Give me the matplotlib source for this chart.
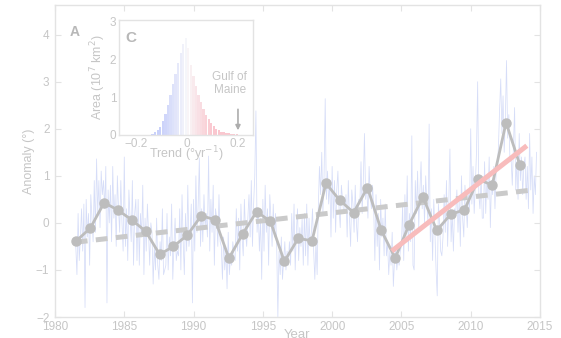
import matplotlib
matplotlib.use("Agg")
import matplotlib.pyplot as plt
import numpy as np

plt.rcParams['font.family'] = ['Liberation Sans', 'DejaVu Sans']
plt.rcParams['lines.scale_dashes'] = False

# ---------------- data ----------------
annual_years = [1981.55, 1982.55, 1983.55, 1984.55, 1985.55, 1986.55, 1987.55, 1988.55,
                1989.55, 1990.55, 1991.55, 1992.55, 1993.55, 1994.55, 1995.55, 1996.55,
                1997.55, 1998.55, 1999.55, 2000.55, 2001.55, 2002.55, 2003.55, 2004.55,
                2005.55, 2006.55, 2007.55, 2008.55, 2009.55, 2010.55, 2011.55, 2012.55,
                2013.55]
annual_anom = [-0.38, -0.11, 0.43, 0.27, 0.06, -0.18, -0.67, -0.50, -0.26, 0.15, 0.07,
               -0.75, -0.23, 0.24, 0.03, -0.82, -0.33, -0.38, 0.84, 0.48, 0.22, 0.75,
               -0.16, -0.75, -0.04, 0.55, -0.16, 0.18, 0.28, 0.93, 0.80, 2.13, 1.23]

monthly_start = 1981.5
monthly_anom = [
    -0.5, -1.1, 0.2, -0.8, -0.3, 0.3,                                   # 1981 (Jul-Dec)
    -0.6, 0.4, -1.8, 0.5, -0.3, 0.2, -0.9, 0.6, 0.1, -0.4, 0.9, -0.2,     # 1982
    1.36, 0.2, 0.9, -0.1, 1.1, 0.6, 0.9, 0.3, 1.2, -1.7, 0.7, 0.0,        # 1983
    0.8, -0.4, 1.2, 0.1, 0.6, -0.5, 1.0, 0.3, -0.2, 0.9, 0.0, -0.6,       # 1984
    1.4, -0.5, 0.3, -0.8, 0.7, 0.1, -0.4, 0.9, -0.9, 0.2, 0.5, -0.8,      # 1985
    0.5, -0.9, 0.2, -0.3, 0.8, -1.1, 0.1, -0.6, 0.4, -0.2, -0.9, 0.0,     # 1986
    -0.2, -1.3, -0.5, -1.0, 0.1, -0.9, -1.2, -0.4, -0.8, 0.3, -1.1, -1.0, # 1987
    -0.9, 0.2, -1.0, -0.3, -0.7, 0.4, -1.2, -0.5, 0.1, -0.8, -0.6, -0.7,  # 1988
    0.3, -1.0, 0.6, -0.4, -1.1, 0.2, -0.6, 0.8, -0.5, -0.2, 0.4, -1.7,    # 1989
    0.5, -0.6, 1.0, -0.2, 0.4, 1.38, -0.5, 0.3, -0.4, 0.6, -0.1, 0.2,     # 1990
    -0.3, 1.42, -0.6, 0.5, -0.2, 0.8, -0.9, 0.3, 0.1, -0.5, 0.6, -0.4,    # 1991
    -0.5, -1.2, -0.3, -1.0, -0.6, -1.4, -0.2, -1.1, -0.7, -0.9, -0.4, -0.7, # 1992
    -0.8, 0.3, -0.6, 0.1, -1.0, 0.4, -0.3, -0.7, 0.5, -0.2, -0.5, 0.1,    # 1993
    0.6, -0.3, 0.9, -0.5, 0.4, 1.0, 2.38, -0.2, 0.3, -0.6, 0.1, -1.2,     # 1994
    0.5, -0.6, 0.8, -0.2, 0.3, -0.9, 0.6, 0.1, -0.5, 0.4, -0.3, 0.2,      # 1995
    -0.5, -2.0, -0.6, -1.1, -0.3, -1.2, -0.8, -0.4, -1.0, -0.6, -0.9, -0.4, # 1996
    -0.9, 0.2, -0.6, 0.4, -1.0, -0.2, 0.3, -0.8, -0.1, -0.5, 0.1, -0.9,   # 1997
    0.2, -0.7, 0.4, -0.9, 0.1, -0.5, -0.2, 0.3, -0.6, -1.2, -0.4, -1.1,   # 1998
    0.3, 1.2, 0.6, 1.5, 0.2, 1.0, 2.64, 0.5, 1.1, 0.4, 0.9, -0.3,         # 1999
    1.2, 0.1, 0.9, -0.2, 0.7, 1.1, 0.3, -0.1, 0.8, 0.5, 0.2, 0.3,         # 2000
    0.6, -0.3, 0.9, 0.1, -0.5, 0.7, 0.4, -0.2, 0.8, 0.0, -0.4, 0.5,       # 2001
    0.4, 1.3, 0.2, 0.9, 1.9, 0.5, 0.8, 0.1, 1.2, 0.6, 0.3, 0.8,           # 2002
    0.3, -0.8, 0.6, -0.5, 0.2, -1.0, 0.5, -0.3, 0.1, -0.7, 0.4, -0.7,     # 2003
    -0.4, -1.1, -0.6, -0.9, -0.2, -1.35, -0.8, -0.5, -1.0, -0.7, -0.9, -0.6, # 2004
    -0.5, 0.4, -0.8, 0.6, -0.3, 1.0, -0.6, 0.2, -0.4, 1.85, -0.9, -1.0,   # 2005
    0.9, 0.2, 1.1, -0.1, 0.7, 1.3, 0.3, 0.8, 0.0, 1.0, 0.4, 0.0,          # 2006
    2.1, -0.4, 0.3, -0.8, 0.5, -0.2, -1.0, -1.55, 0.4, 0.0, -0.6, -0.7,   # 2007
    -0.3, 0.6, -0.2, 0.9, -0.5, 0.4, 1.57, -0.4, 0.2, -0.6, 0.3, 0.2,     # 2008
    0.7, -0.2, 0.5, -0.5, 1.0, 0.1, -0.3, 0.8, 0.4, -0.1, 0.6, 0.3,       # 2009
    2.0, 0.4, 1.2, 0.2, 0.8, 1.5, 3.0, 0.6, 0.3, 1.0, 0.1, 0.1,           # 2010
    1.3, 0.2, 1.0, 0.5, 1.4, -0.1, 0.9, 0.6, 1.2, 0.3, 1.1, 1.2,          # 2011
    1.6, 2.4, 3.06, 1.9, 2.7, 1.5, 2.2, 3.45, 1.8, 2.3, 1.3, 1.35,        # 2012
    0.8, 1.6, 2.45, 0.7, 1.3, 0.5, 1.9, 0.9, 1.4, 0.6, 1.2, 1.4,          # 2013
    0.5, 1.2, 0.3, 1.9, 0.7, 1.4, 0.2, 1.0, 0.6, 1.5,                     # 2014
]
monthly_years = monthly_start + np.arange(len(monthly_anom)) / 12.0

long_trend_years = [1981.5, 2014.5]
long_trend_vals = [-0.41, 0.70]
recent_trend_years = [2004.3, 2014.05]
recent_trend_vals = [-0.60, 1.64]

hist_centers = [-0.145, -0.135, -0.125, -0.115, -0.105, -0.095, -0.085, -0.075, -0.065,
                -0.055, -0.045, -0.035, -0.025, -0.015, -0.005, 0.005, 0.015, 0.025,
                0.035, 0.045, 0.055, 0.065, 0.075, 0.085, 0.095, 0.105, 0.115, 0.125,
                0.135, 0.145, 0.155, 0.165, 0.175, 0.185, 0.195]
hist_area = [0.01, 0.03, 0.07, 0.13, 0.22, 0.38, 0.55, 0.80, 1.05, 1.35, 1.60, 1.90,
             2.15, 2.40, 2.55, 2.30, 1.85, 1.55, 1.30, 1.05, 0.87, 0.68, 0.52, 0.42,
             0.32, 0.23, 0.17, 0.12, 0.09, 0.07, 0.05, 0.04, 0.03, 0.02, 0.015]
gulf_of_maine_trend = 0.2

xticks_main = [1980, 1985, 1990, 1995, 2000, 2005, 2010, 2015]
yticks_main = [-2, -1, 0, 1, 2, 3, 4]

# ---------------- style ----------------
TXT = '#c6c6c6'
SPINE = '#e3e3e3'
GRAY = '#bdbdbd'
DASH = '#cacaca'
BLUE = '#d6ddf8'
RED = '#f8bcbc'

W, H = 561, 338
fig = plt.figure(figsize=(W / 100, H / 100), dpi=100)
ax = fig.add_axes([55 / W, 1 - 317 / H, (540 - 55) / W, (317 - 5) / H])

ax.plot(monthly_years, monthly_anom, color=BLUE, lw=0.55, zorder=1)
ax.plot(long_trend_years, long_trend_vals, color=DASH, lw=3.6, dashes=(8.5, 6), zorder=2,
        solid_capstyle='butt', dash_capstyle='butt')
ax.plot(annual_years, annual_anom, color=GRAY, lw=2.0, marker='o', ms=6.5,
        mec=GRAY, mfc=GRAY, zorder=3)
ax.plot(recent_trend_years, recent_trend_vals, color=RED, lw=3.6, zorder=4,
        solid_capstyle='butt')

ax.set_xlim(1980, 2015)
ax.set_ylim(-2, 4.63)
ax.set_xticks(xticks_main)
ax.set_yticks(yticks_main)
ax.set_yticklabels(['\u22122', '\u22121', '0', '1', '2', '3', '4'])
ax.tick_params(direction='in', length=4, width=0.8, color=SPINE, labelcolor=TXT,
               labelsize=8.5, top=True, right=True, pad=3)
ax.tick_params(axis='y', pad=4)
for s in ax.spines.values():
    s.set_color(SPINE)
    s.set_linewidth(1.0)
ax.set_ylabel('Anomaly (\u00b0)', color=TXT, fontsize=9, labelpad=1)
fig.text(297 / W, 1 - 329 / H, 'Year', color=TXT, fontsize=9.5, ha='center', va='top')
fig.text(75 / W, 1 - 32 / H, 'A', color='#b8b8b8', fontsize=10, fontweight='bold',
         ha='center', va='center')

# ---------------- inset C ----------------
ins = fig.add_axes([119 / W, 1 - 135 / H, (253 - 119) / W, (135 - 20) / H])
cols = []
white = np.array([0.975, 0.975, 0.98])
for c in hist_centers:
    t = min(abs(c) / 0.10, 1.0) ** 0.9
    if c < 0:
        base = np.array([0.79, 0.82, 0.98])
    else:
        base = np.array([0.98, 0.78, 0.81])
    cols.append(tuple((1 - t) * white + t * base))
ins.bar(hist_centers, hist_area, width=0.009, color=cols, edgecolor='none')
ins.set_xlim(-0.267, 0.259)
ins.set_ylim(0, 3.03)
ins.set_xticks([-0.2, 0, 0.2])
ins.set_xticklabels(['\u22120.2', '0', '0.2'])
ins.set_yticks([0, 1, 2, 3])
ins.tick_params(direction='in', length=0, color=SPINE, labelcolor=TXT, labelsize=8.5,
                pad=2)
for s in ins.spines.values():
    s.set_color(SPINE)
    s.set_linewidth(1.0)
ins.set_xlabel('Trend (\u00b0yr$^{-1}$)', color=TXT, fontsize=9, labelpad=-4)
ins.set_ylabel('Area (10$^7$ km$^2$)', color=TXT, fontsize=9, labelpad=1)
ins.text(0.09, 0.84, 'C', transform=ins.transAxes, color='#b8b8b8', fontsize=11,
         fontweight='bold', ha='center', va='center')
ins.text(0.167, 1.35, 'Gulf of\nMaine', color=TXT, fontsize=8.5, ha='center',
         va='center', linespacing=1.15)
ins.annotate('', xy=(gulf_of_maine_trend, 0.05), xytext=(gulf_of_maine_trend, 0.75),
             arrowprops=dict(arrowstyle='-|>', color='#adadad', lw=1.2,
                             mutation_scale=7))

fig.savefig('out.png', dpi=100)
